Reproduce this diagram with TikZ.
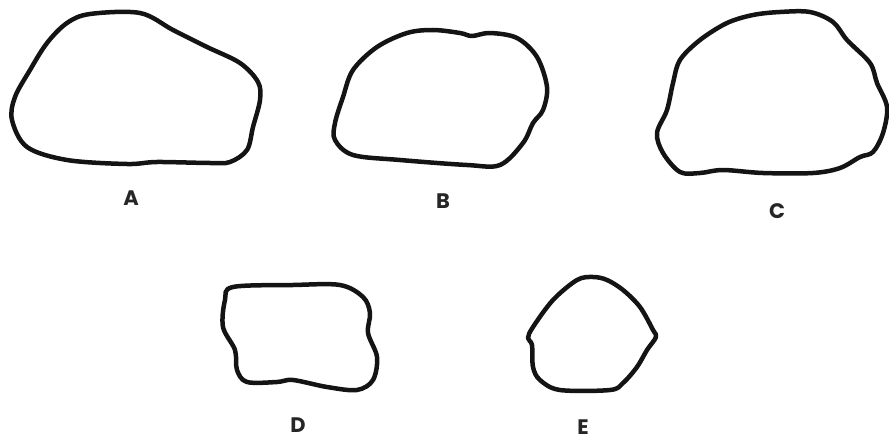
\documentclass[tikz,border=0pt]{standalone}
\usepackage{fontspec}
\setmainfont{Poppins}
\usepackage{tikz}
\tikzset{
    outline/.style={line width=4.5pt, line join=round, black!92},
    blob/.style={smooth cycle, tension=0.55},
    letter/.style={font=\fontsize{21}{22}\selectfont\bfseries, text=black!85, inner sep=0pt}
}

\begin{document}
\begin{tikzpicture}[x=1pt, y=-1pt]
    \useasboundingbox (0,0) rectangle (889,441);

    % outline A
    \draw [outline] plot[blob] coordinates {(90,14) (140,13) (173,30) (207,47) (240,63) (258,82) (260,100) (253,127) (247,150) (230,162) (210,163) (157,162) (127,164) (67,160) (27,147) (12,120) (15,97) (30,70) (47,43) (67,23)};
    % outline B
    \draw [outline] plot[blob] coordinates {(433,30) (460,33) (472,36) (490,33) (517,38) (537,57) (547,87) (543,110) (533,123) (523,143) (500,165) (467,165) (400,160) (353,155) (335,140) (335,123) (343,97) (353,70) (377,47) (407,33)};
    % outline C
    \draw [outline] plot[blob] coordinates {(780,12) (810,12) (833,22) (847,40) (870,63) (877,83) (887,107) (883,133) (873,152) (860,157) (840,168) (813,173) (763,173) (723,170) (700,173) (680,172) (663,153) (657,133) (667,110) (673,83) (680,60) (700,40) (727,23) (753,15)};
    % outline D
    \draw [outline] plot[blob] coordinates {(233,287) (293,285) (340,285) (363,297) (370,313) (368,333) (377,357) (373,380) (357,390) (327,387) (293,380) (277,382) (247,382) (237,370) (235,350) (223,327) (225,300)};
    % outline E
    \draw [outline] plot[blob] coordinates {(593,277) (607,280) (623,290) (640,307) (653,330) (656,337) (647,350) (637,367) (623,383) (610,390) (560,390) (540,380) (533,367) (532,345) (528,338) (533,327) (553,300) (577,280)};

    \node (labA) [letter] at (131,198) {A};
    \node (labB) [letter] at (443,201) {B};
    \node (labC) [letter] at (777,211) {C};
    \node (labD) [letter] at (298,425) {D};
    \node (labE) [letter] at (583,427) {E};
\end{tikzpicture}
\end{document}
